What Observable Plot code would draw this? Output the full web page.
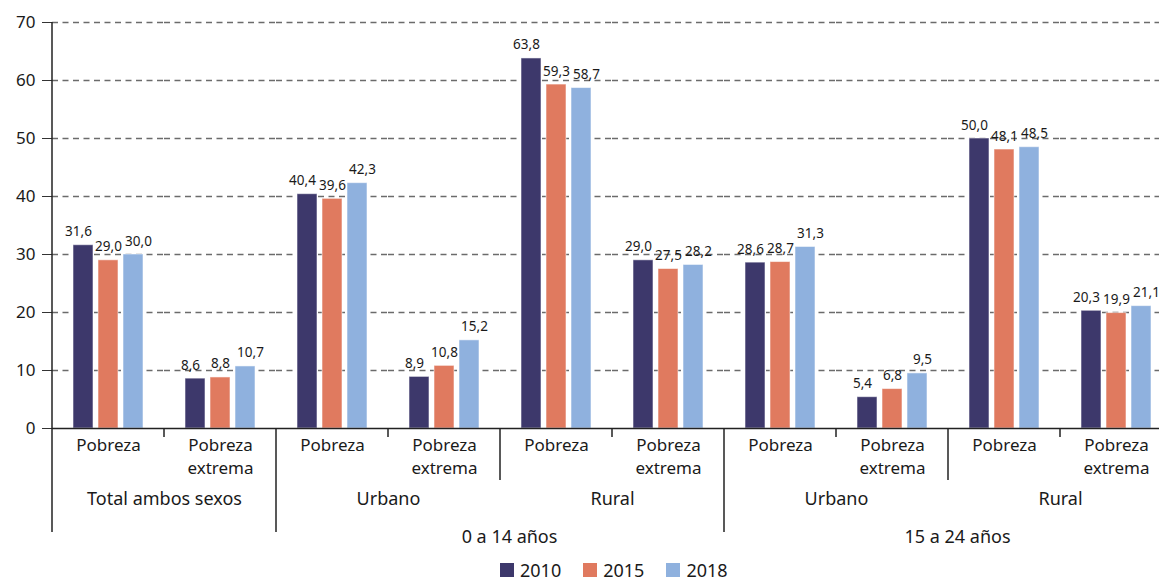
<!DOCTYPE html>
<html>
<head>
<meta charset="utf-8">
<script src="https://cdn.jsdelivr.net/npm/d3@7"></script>
<script src="https://cdn.jsdelivr.net/npm/@observablehq/plot@0.6"></script>
<style>
  html, body { margin: 0; padding: 0; background: #fff; }
  body { font-family: "Noto Sans", sans-serif; color: #1a1a1a; width: 1159px; height: 584px; overflow: hidden; }
  #chart svg { display: block; overflow: visible; }
  .legend { display: flex; align-items: center; margin-left: 500px; height: 28px; font-size: 18px; }
  .legend .item { display: flex; align-items: center; margin-right: 22px; }
  .legend .sw { width: 14px; height: 14px; margin-right: 6px; }
</style>
</head>
<body>
<div id="chart"></div>
<div class="legend" id="legend"></div>
<script>
// ---- data ----
const groupIds = ["T-P", "T-PE", "U14-P", "U14-PE", "R14-P", "R14-PE", "U24-P", "U24-PE", "R24-P", "R24-PE"];
const groupLabels = ["Pobreza", "Pobreza\nextrema", "Pobreza", "Pobreza\nextrema", "Pobreza", "Pobreza\nextrema", "Pobreza", "Pobreza\nextrema", "Pobreza", "Pobreza\nextrema"];
const years = ["2010", "2015", "2018"];
const v2010 = [31.6, 8.6, 40.4, 8.9, 63.8, 29.0, 28.6, 5.4, 50.0, 20.3];
const v2015 = [29.0, 8.8, 39.6, 10.8, 59.3, 27.5, 28.7, 6.8, 48.1, 19.9];
const v2018 = [30.0, 10.7, 42.3, 15.2, 58.7, 28.2, 31.3, 9.5, 48.5, 21.1];
const colors = ["#3d386b", "#e07a5f", "#8fb1de"];
// second level labels (centred on the right edge of the named group)
const level2 = [
  {anchor: "T-P", label: "Total ambos sexos"},
  {anchor: "U14-P", label: "Urbano"},
  {anchor: "R14-P", label: "Rural"},
  {anchor: "U24-P", label: "Urbano"},
  {anchor: "R24-P", label: "Rural"}
];
const level3 = [
  {anchor: "U14-PE", label: "0 a 14 años"},
  {anchor: "U24-PE", label: "15 a 24 años"}
];
const yTicks = [0, 10, 20, 30, 40, 50, 60, 70];
// separators after group index: depth level 1 short, 2 medium, 3 long
const separators = [
  {after: 0, level: 1}, {after: 1, level: 3}, {after: 2, level: 1}, {after: 3, level: 2},
  {after: 4, level: 1}, {after: 5, level: 3}, {after: 6, level: 1}, {after: 7, level: 2},
  {after: 8, level: 1}, {after: 9, level: 3}
];

const series = [v2010, v2015, v2018];
const rows = [];
groupIds.forEach((g, i) => years.forEach((yr, j) => rows.push({group: g, year: yr, value: series[j][i]})));
const groupRows = groupIds.map((g, i) => ({group: g, label: groupLabels[i]}));
const fmt = d => d.value.toFixed(1).replace(".", ",");
const labelShift = {"2010": -5, "2015": 0, "2018": 5};

const chart = Plot.plot({
  width: 1159,
  height: 556,
  marginTop: 22,
  marginLeft: 52,
  marginRight: -13,
  marginBottom: 128,
  style: {fontFamily: "Noto Sans, sans-serif", fontSize: "17px", color: "#1a1a1a", overflow: "visible"},
  fx: {domain: groupIds, padding: 0, axis: null, label: null},
  x: {domain: years, paddingInner: 0.2, paddingOuter: 0.84, axis: null, label: null},
  y: {domain: [0, 70], axis: null, label: null},
  color: {domain: years, range: colors},
  marks: [
    Plot.gridY({ticks: yTicks.filter(t => t > 0), stroke: "#6b6b6b", strokeOpacity: 1, strokeWidth: 1.4, strokeDasharray: "6,4.5"}),
    Plot.axisY({ticks: yTicks, tickSize: 10, tickPadding: 7, fontSize: 17, stroke: "#333", label: null}),
    Plot.barY(rows, {fx: "group", x: "year", y: "value", fill: "year", stroke: "#ffffff", strokeOpacity: 0.55, strokeWidth: 1}),
    Plot.ruleY([0], {stroke: "#222", strokeWidth: 1.6}),
    ...years.map(yr => Plot.text(rows.filter(d => d.year === yr), {
      fx: "group", x: "year", y: "value", text: fmt, dx: labelShift[yr], dy: -9,
      lineAnchor: "bottom", fontSize: 13.5, fill: "#1a1a1a"
    })),
    Plot.text(groupRows, {fx: "group", text: "label", frameAnchor: "bottom", lineAnchor: "top", dy: 7, lineHeight: 1.32, fontSize: 17, fill: "#1a1a1a"}),
    Plot.text(level2, {fx: "anchor", text: "label", frameAnchor: "bottom-right", textAnchor: "middle", lineAnchor: "middle", dy: 71, fontSize: 18, fill: "#1a1a1a"}),
    Plot.text(level3, {fx: "anchor", text: "label", frameAnchor: "bottom-right", textAnchor: "middle", lineAnchor: "middle", dx: 9, dy: 109, fontSize: 18, fill: "#1a1a1a"})
  ]
});

// hierarchical separators and left axis line, positioned with Plot's own scales
const fxS = chart.scale("fx"), yS = chart.scale("y");
const y0 = yS.apply(0), yTop = yS.apply(70);
const depth = {1: 9, 2: 52, 3: 104};
const svg = d3.select(chart);
const g = svg.append("g").attr("stroke", "#222").attr("stroke-width", 1.5);
g.append("line").attr("x1", fxS.apply(groupIds[0])).attr("x2", fxS.apply(groupIds[0]))
  .attr("y1", yTop).attr("y2", y0 + depth[3]);
separators.forEach(s => {
  const x = fxS.apply(groupIds[s.after]) + fxS.bandwidth;
  g.append("line").attr("x1", x).attr("x2", x).attr("y1", y0).attr("y2", y0 + depth[s.level]);
});
document.getElementById("chart").appendChild(chart);

const legend = document.getElementById("legend");
years.forEach((yr, i) => {
  const it = document.createElement("div");
  it.className = "item";
  it.innerHTML = `<span class="sw" style="background:${colors[i]}"></span><span>${yr}</span>`;
  legend.appendChild(it);
});
</script>
</body>
</html>
